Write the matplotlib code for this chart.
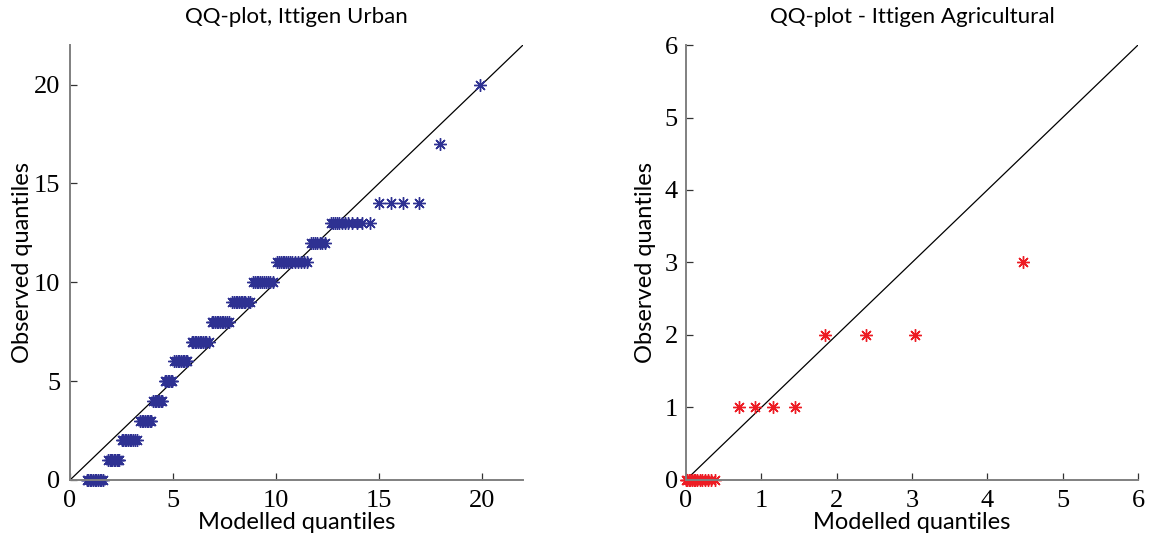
import numpy as np
import matplotlib.pyplot as plt

# Ittigen Urban: observed value -> modelled quantiles of the sorted sample
urban_rows = {
    0: [0.80, 0.88, 0.96, 1.04, 1.12, 1.20, 1.28, 1.36, 1.44, 1.52, 1.60],
    1: [1.85, 1.92, 1.99, 2.06, 2.13, 2.20, 2.27, 2.34, 2.40],
    2: [2.50, 2.58, 2.66, 2.74, 2.82, 2.90, 2.98, 3.06, 3.14, 3.25],
    3: [3.40, 3.48, 3.56, 3.64, 3.72, 3.80, 3.88, 3.95],
    4: [4.05, 4.12, 4.19, 4.26, 4.33, 4.40, 4.47],
    5: [4.60, 4.67, 4.74, 4.81, 4.88, 4.95],
    6: [5.07, 5.15, 5.23, 5.31, 5.39, 5.47, 5.55, 5.63, 5.70],
    7: [5.90, 5.98, 6.06, 6.14, 6.22, 6.30, 6.38, 6.46, 6.54, 6.62, 6.75],
    8: [6.88, 6.96, 7.04, 7.12, 7.20, 7.28, 7.36, 7.44, 7.52, 7.60, 7.70],
    9: [7.88, 7.96, 8.04, 8.12, 8.20, 8.28, 8.36, 8.44, 8.52, 8.62, 8.75],
    10: [8.90, 8.98, 9.06, 9.14, 9.22, 9.30, 9.40, 9.50, 9.60, 9.72, 9.88],
    11: [10.05, 10.14, 10.23, 10.32, 10.41, 10.50, 10.60, 10.70, 10.80,
         10.92, 11.05, 11.20, 11.35, 11.50],
    12: [11.70, 11.80, 11.90, 12.00, 12.12, 12.25, 12.40],
    13: [12.65, 12.75, 12.85, 12.95, 13.05, 13.20, 13.35, 13.50, 13.67,
         13.92, 14.19, 14.56],
    14: [15.02, 15.58, 16.18, 16.94],
    17: [17.96],
    20: [19.90],
}

# Ittigen Agricultural
agri_rows = {
    0: [0.00, 0.02, 0.04, 0.06, 0.08, 0.10, 0.12, 0.15, 0.18, 0.21, 0.25,
        0.29, 0.33, 0.38],
    1: [0.70, 0.92, 1.16, 1.45],
    2: [1.85, 2.39, 3.04],
    3: [4.47],
}

urban_ticks = [0, 5, 10, 15, 20]
agri_ticks = [0, 1, 2, 3, 4, 5, 6]

LABEL_FONT = ['Lato', 'DejaVu Sans']
TICK_FONT = ['Liberation Serif', 'DejaVu Serif']
ASTERISK = (8, 2, 0)


def flatten(rows):
    xs, ys = [], []
    for obs, mod in rows.items():
        xs.extend(mod)
        ys.extend([obs] * len(mod))
    return np.array(xs), np.array(ys)


def qq_panel(ax, rows, lim, ticks, color, title, ypad, ylabelpad):
    x, y = flatten(rows)
    ax.plot([0, lim], [0, lim], color='black', lw=0.9, zorder=1)
    ax.plot(x, y, linestyle='none', marker=ASTERISK, markersize=9,
            markeredgewidth=1.0, color=color, zorder=2, clip_on=False)
    ax.set_xlim(0, lim)
    ax.set_ylim(0, lim)
    ax.set_xticks(ticks)
    ax.set_yticks(ticks)
    for side in ('top', 'right'):
        ax.spines[side].set_visible(False)
    for side in ('left', 'bottom'):
        ax.spines[side].set_color('#808080')
        ax.spines[side].set_linewidth(1.4)
    ax.tick_params(direction='in', length=5, width=0.9, color='#333333',
                   labelsize=19)
    ax.tick_params(axis='x', pad=7)
    ax.tick_params(axis='y', pad=ypad)
    for lab in ax.get_xticklabels() + ax.get_yticklabels():
        lab.set_family(TICK_FONT)
    ax.set_title(title, family=LABEL_FONT, fontsize=16, pad=16)
    ax.set_xlabel('Modelled quantiles', family=LABEL_FONT, fontsize=17,
                  labelpad=0)
    ax.set_ylabel('Observed quantiles', family=LABEL_FONT, fontsize=17,
                  labelpad=ylabelpad)


fig = plt.figure(figsize=(11.5, 5.39), dpi=100)
ax1 = fig.add_axes([0.0609, 0.1095, 0.3939, 0.807])
ax2 = fig.add_axes([0.5965, 0.1095, 0.3931, 0.807])

qq_panel(ax1, urban_rows, 22, urban_ticks, '#2e3192',
         'QQ-plot, Ittigen Urban', ypad=7, ylabelpad=1)
qq_panel(ax2, agri_rows, 6, agri_ticks, '#ed1c24',
         'QQ-plot - Ittigen Agricultural', ypad=6, ylabelpad=6)

fig.savefig('out.png', dpi=100)
